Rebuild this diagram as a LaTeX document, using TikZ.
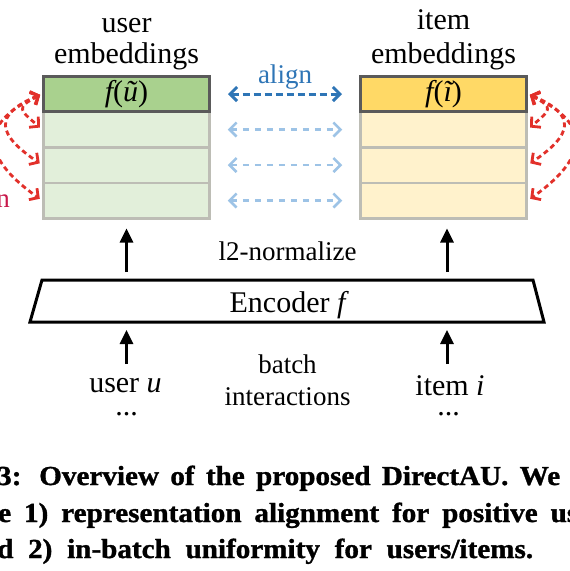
\documentclass[tikz,border=0pt]{standalone}
\usepackage{fontspec}
\setmainfont{Liberation Serif}
\newfontfamily\capfont[FakeStretch=1.06,BoldFeatures={FakeBold=1.2}]{Liberation Serif}
\usetikzlibrary{arrows.meta}
\definecolor{gdark}{HTML}{A9D18E}
\definecolor{glight}{HTML}{E2EFDA}
\definecolor{ydark}{HTML}{FFD966}
\definecolor{ylight}{HTML}{FFF2CC}
\definecolor{bdark}{HTML}{2E75B6}
\definecolor{blight}{HTML}{9DC3E6}
\definecolor{redA}{HTML}{E2302A}
\definecolor{crim}{HTML}{C8194B}
\definecolor{rowline}{HTML}{BDBDB5}
\definecolor{topline}{HTML}{5A5A5A}
\begin{document}
\begin{tikzpicture}[x=1pt,y=-1pt,
  row/.style={draw=rowline,line width=2.5pt,minimum width=166pt,minimum height=35.5pt,inner sep=0pt},
  toprow/.style={draw=topline,line width=3pt,minimum width=166pt,minimum height=35.5pt,inner sep=0pt,font=\fontsize{30}{34}\selectfont},
  lbl/.style={font=\fontsize{30}{34}\selectfont,inner sep=0pt},
  lbls/.style={font=\fontsize{27}{31}\selectfont,inner sep=0pt},
  captext/.style={font=\capfont\bfseries\fontsize{27.5}{30}\selectfont,inner sep=0pt,anchor=base west},
  blk/.style={line width=3pt,-{Triangle[length=14pt,width=13pt]}},
  alignA/.style={draw=bdark,line width=3pt,dash pattern=on 7pt off 4pt,
    {Straight Barb[length=7pt,width=14pt]}-{Straight Barb[length=7pt,width=14pt]},shorten <=17pt,shorten >=17pt},
  alignB/.style={draw=blight,line width=2.5pt,dash pattern=on 6pt off 6pt,
    {Straight Barb[length=7pt,width=14pt]}-{Straight Barb[length=7pt,width=14pt]},shorten <=17pt,shorten >=17pt},
  unif/.style={draw=redA,line width=2.8pt,dash pattern=on 5pt off 3.5pt,
    {Straight Barb[length=6.5pt,width=14pt]}-{Straight Barb[length=6.5pt,width=14pt]},shorten <=2pt,shorten >=3pt}]
\useasboundingbox (0,0) rectangle (570,571);
\clip (0,0) rectangle (570,571);
\fill[white] (0,0) rectangle (570,571);

% user embeddings
\node[row,fill=glight] (u1) at (126.5,129.5) {};
\node[row,fill=glight] (u2) at (126.5,165) {};
\node[row,fill=glight] (u3) at (126.5,200.5) {};
\node[toprow,fill=gdark] (u0) at (126.5,94) {{\itshape f}({\itshape ũ})};
% item embeddings
\node[row,fill=ylight] (i1) at (443.5,129.5) {};
\node[row,fill=ylight] (i2) at (443.5,165) {};
\node[row,fill=ylight] (i3) at (443.5,200.5) {};
\node[toprow,fill=ydark] (i0) at (443.5,94) {{\itshape f}({\itshape ĩ})};

% titles
\node[lbl,anchor=base] (ut1) at (126.5,32) {user};
\node[lbl,anchor=base] (ut2) at (126.5,63) {embeddings};
\node[lbl,anchor=base] (it1) at (443.5,29) {item};
\node[lbl,anchor=base] (it2) at (443.5,63) {embeddings};
\node[lbls,anchor=base,text=bdark] (al) at (285,83) {align};

% align arrows
\draw[alignA] (u0.east) -- (i0.west);
\draw[alignB] (u1.east) -- (i1.west);
\draw[alignB] (u2.east) -- (i2.west);
\draw[alignB] (u3.east) -- (i3.west);

% uniformity arrows
\draw[unif] (u0.west) .. controls (15,108) and (20,110) .. (u1.west);
\draw[unif] (u0.west) .. controls (-8,115) and (-2,135) .. (u2.west);
\draw[unif] (u0.west) .. controls (-25,125) and (-15,160) .. (u3.west);
\draw[unif] (i0.east) .. controls (555,108) and (550,110) .. (i1.east);
\draw[unif] (i0.east) .. controls (578,115) and (572,135) .. (i2.east);
\draw[unif] (i0.east) .. controls (595,125) and (585,160) .. (i3.east);
\node[lbls,anchor=base east,text=crim] (ul) at (10,207) {n};

% encoder
\coordinate (eTLc) at (42,280);
\coordinate (eTRc) at (533,280);
\coordinate (eBRc) at (544,322);
\coordinate (eBLc) at (30,322);
\draw[line width=3pt,line join=miter] (eTLc) -- (eTRc) -- (eBRc) -- (eBLc) -- cycle;
\node[lbl,anchor=base] (enc) at (287.5,312) {Encoder {\itshape f}};
\node[lbls,anchor=base] (nrm) at (287.5,260) {l2-normalize};

\coordinate (eTL) at (126.5,280);
\coordinate (eTR) at (447,280);
\coordinate (eBL) at (126.5,322);
\coordinate (eBR) at (447,322);
\draw[blk,shorten <=8pt,shorten >=9pt] (eTL) -- (u3.south);
\draw[blk,shorten <=8pt,shorten >=9pt] (eTR) -- (eTR |- i3.south);

% inputs
\node[lbl,anchor=base] (usr) at (125.5,392) {user {\itshape u}};
\node[lbl,anchor=base] (udots) at (126.5,415) {...};
\node[lbl,anchor=base] (itm) at (450,395) {item {\itshape i}};
\node[lbl,anchor=base] (idots) at (448.5,415) {...};
\node[lbls,anchor=base] (bt1) at (287.5,373) {batch};
\node[lbls,anchor=base] (bt2) at (287.5,405) {interactions};
\coordinate (uin) at (126.5,364);
\coordinate (iin) at (447,364);
\draw[blk,shorten >=8pt] (uin) -- (eBL);
\draw[blk,shorten >=8pt] (iin) -- (eBR);

% caption
\node[captext] (c1) at (-3,485) {\makebox[563pt][s]{3: Overview of the proposed DirectAU. We}};
\node[captext] (c2) at (-2,522) {\makebox[580pt][s]{e 1) representation alignment for positive us}};
\node[captext] (c3) at (-3,558) {\makebox[536pt][s]{d 2) in-batch uniformity for users/items.}};
\end{tikzpicture}
\end{document}
